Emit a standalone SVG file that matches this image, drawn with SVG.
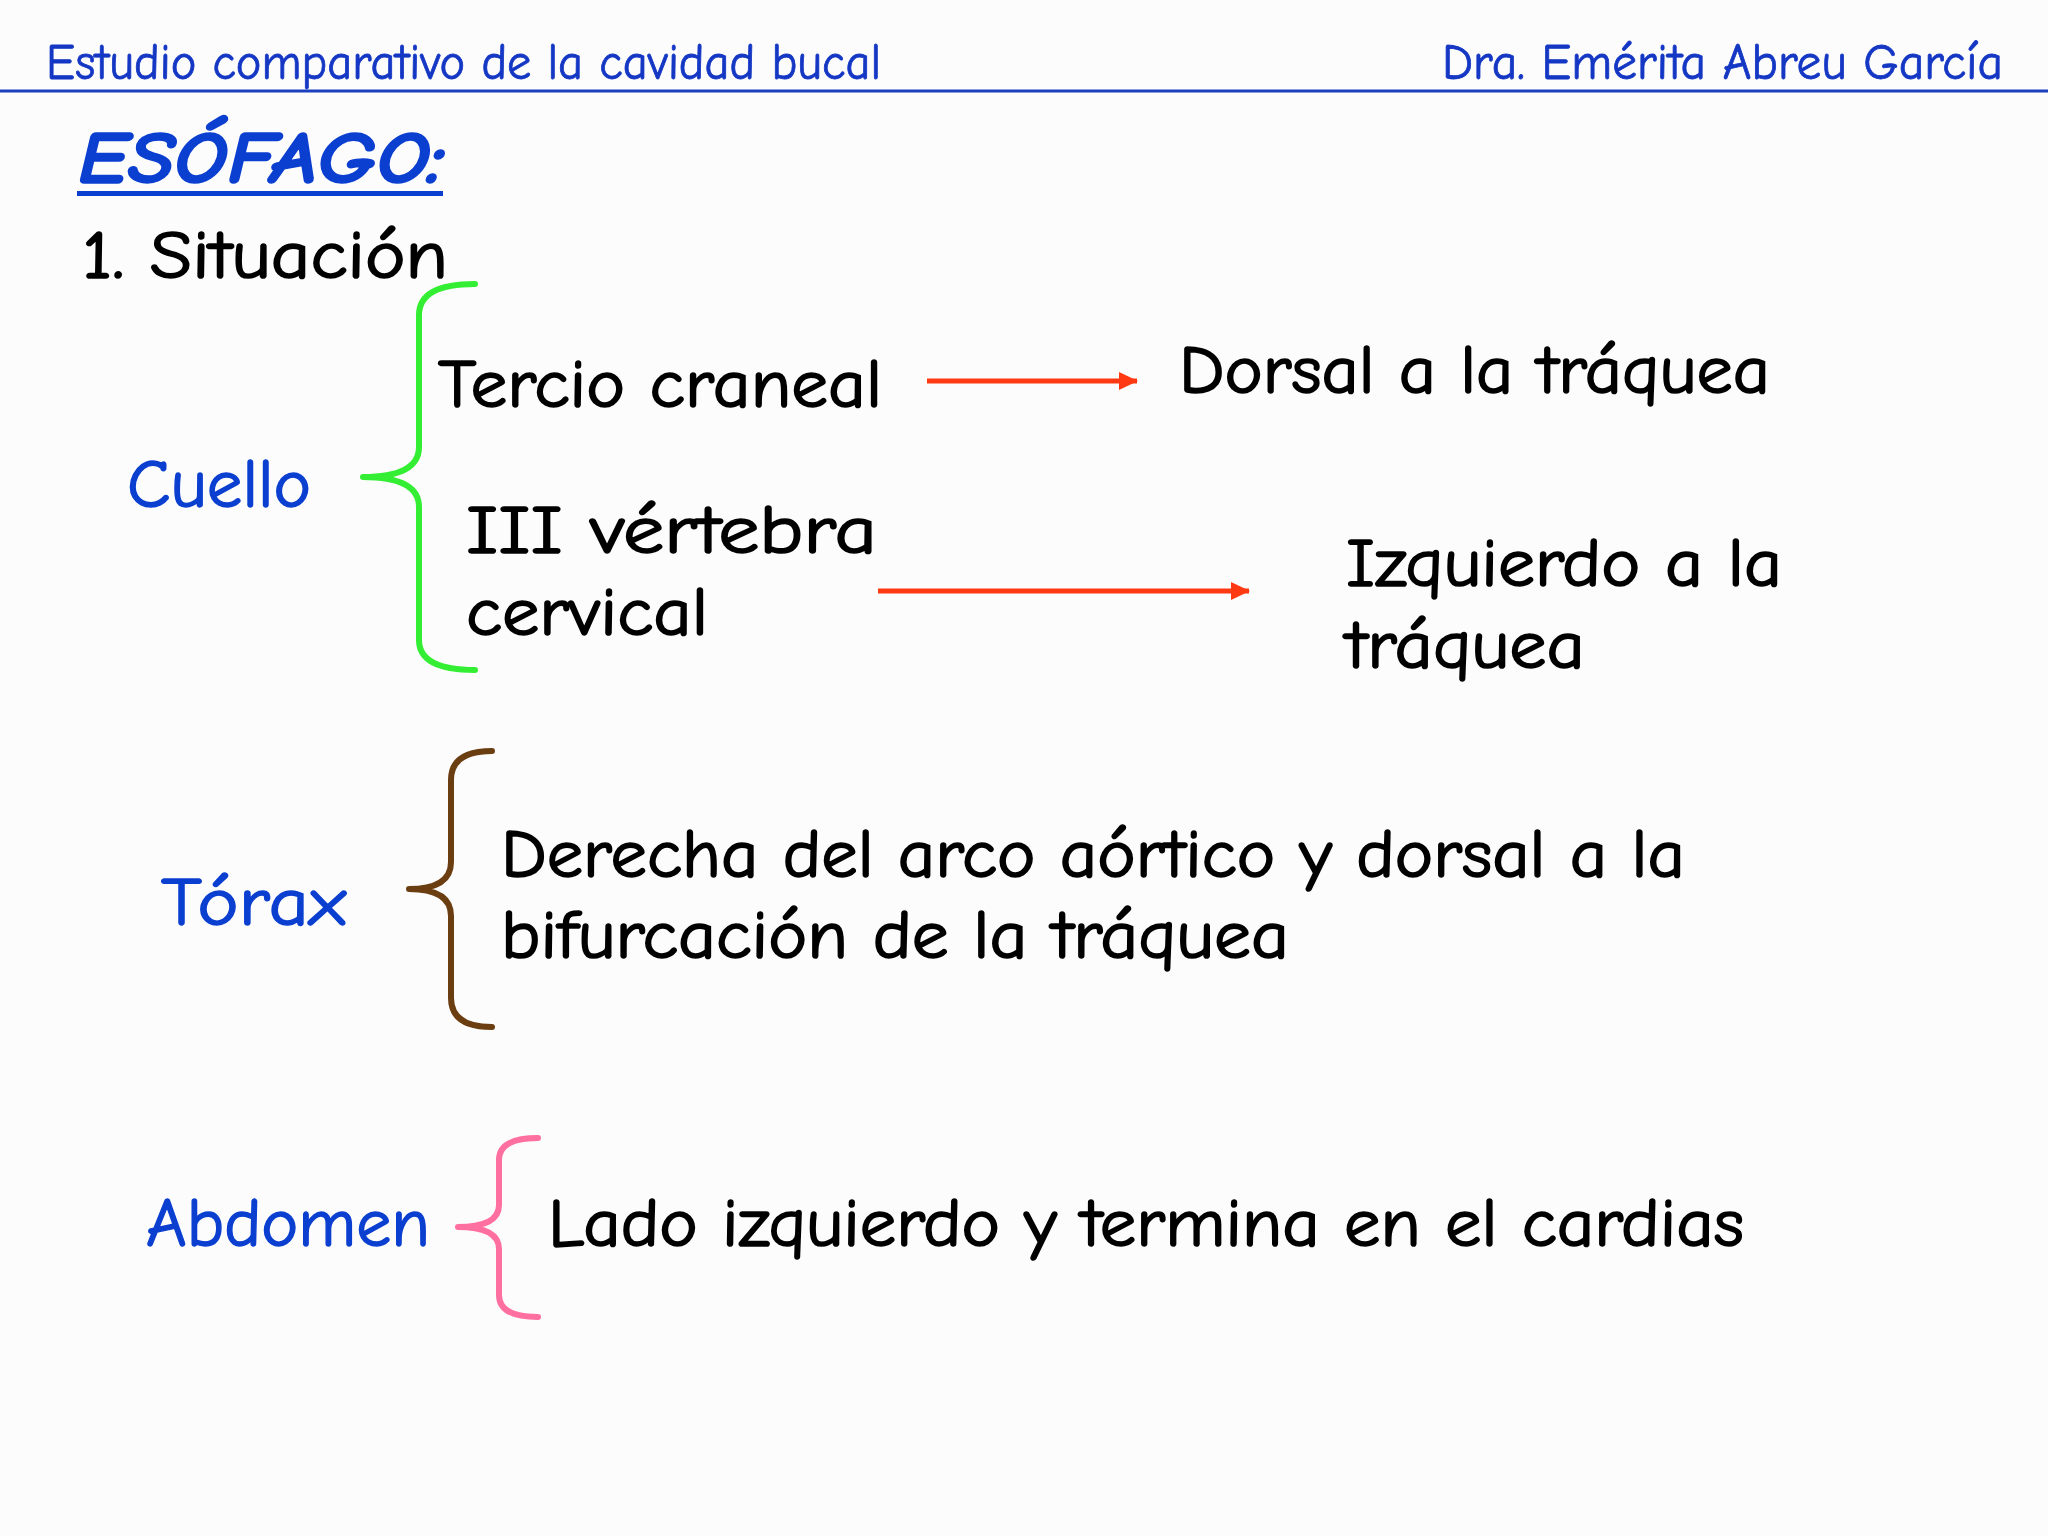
<svg xmlns="http://www.w3.org/2000/svg" width="2048" height="1536" viewBox="0 0 2048 1536">
<defs>
<style>
text{font-family:"Comic Neue","Noto Sans","DejaVu Sans",sans-serif}
.hdr{fill:#1437c4;stroke:#1437c4;stroke-width:0.8;font-size:50px}
.blk{fill:#000;stroke:#000;stroke-width:1.6;font-size:68px}
.lbl{fill:#0b3fd0;stroke:#0b3fd0;stroke-width:1.4;font-size:68px}
.brace{fill:none;stroke-width:6;stroke-linecap:round;stroke-linejoin:round}
.arr{stroke:#ff3a12;stroke-width:5;fill:none}
</style>
<marker id="ah" markerUnits="userSpaceOnUse" markerWidth="20" markerHeight="20" viewBox="0 0 20 20" refX="18" refY="10" orient="auto">
<path d="M0,1 L19,10 L0,19 Z" fill="#ff3a12"/>
</marker>
</defs>
<rect width="2048" height="1536" fill="#fdfcfd"/>
<g id="header">
<text class="hdr" x="46" y="79" textLength="835" lengthAdjust="spacingAndGlyphs">Estudio comparativo de la cavidad bucal</text>
<text class="hdr" x="1442" y="79" textLength="561" lengthAdjust="spacingAndGlyphs">Dra. Emérita Abreu García</text>
<line x1="0" y1="91" x2="2048" y2="91" stroke="#1a3fbf" stroke-width="3"/>
</g>
<g id="title">
<text x="78" y="183" fill="#0b3fd0" stroke="#0b3fd0" stroke-width="1.5" font-size="74" font-weight="bold" font-style="italic" textLength="366" lengthAdjust="spacingAndGlyphs">ESÓFAGO:</text>
<rect x="77" y="191" width="366" height="5" fill="#0b3fd0"/>
<text class="blk" x="82" y="278" textLength="366" lengthAdjust="spacingAndGlyphs">1. Situación</text>
</g>
<g id="cuello">
<text class="lbl" x="127" y="507" textLength="184" lengthAdjust="spacingAndGlyphs">Cuello</text>
<path class="brace" stroke="#33ee33" d="M475,284 Q419,284 419,315 L419,447 Q419,477 363,477 Q419,477 419,507 L419,640 Q419,670 475,670"/>
</g>
<g id="tercio">
<text class="blk" x="438" y="407" textLength="444" lengthAdjust="spacingAndGlyphs">Tercio craneal</text>
</g>
<g id="vertebra">
<text class="blk" x="466" y="553" textLength="411" lengthAdjust="spacingAndGlyphs">III vértebra</text>
<text class="blk" x="466" y="635" textLength="242" lengthAdjust="spacingAndGlyphs">cervical</text>
</g>
<g id="dorsal">
<text class="blk" x="1179" y="393" textLength="591" lengthAdjust="spacingAndGlyphs">Dorsal a la tráquea</text>
</g>
<g id="izquierdo">
<text class="blk" x="1346" y="586" textLength="436" lengthAdjust="spacingAndGlyphs">Izquierdo a la</text>
<text class="blk" x="1346" y="668" textLength="239" lengthAdjust="spacingAndGlyphs">tráquea</text>
</g>
<g id="torax">
<text class="lbl" x="161" y="925" textLength="185" lengthAdjust="spacingAndGlyphs">Tórax</text>
<path class="brace" stroke="#6b3e12" d="M492,751 Q451,751 451,780 L451,862 Q451,889 409,889 Q451,889 451,916 L451,998 Q451,1027 492,1027"/>
<text class="blk" x="501" y="877" textLength="1184" lengthAdjust="spacingAndGlyphs">Derecha del arco aórtico y dorsal a la</text>
<text class="blk" x="501" y="958" textLength="788" lengthAdjust="spacingAndGlyphs">bifurcación de la tráquea</text>
</g>
<g id="abdomen">
<text class="lbl" x="146" y="1246" textLength="284" lengthAdjust="spacingAndGlyphs">Abdomen</text>
<path class="brace" stroke="#ff6f9f" d="M538,1138 Q499,1138 499,1160 L499,1205 Q499,1227 458,1227 Q499,1227 499,1249 L499,1295 Q499,1317 538,1317"/>
<text class="blk" x="548" y="1246" textLength="1196" lengthAdjust="spacingAndGlyphs">Lado izquierdo y termina en el cardias</text>
</g>
<g id="connectors">
<line class="arr" x1="927" y1="381" x2="1137" y2="381" marker-end="url(#ah)"/>
<line class="arr" x1="878" y1="591" x2="1249" y2="591" marker-end="url(#ah)"/>
</g>
</svg>
